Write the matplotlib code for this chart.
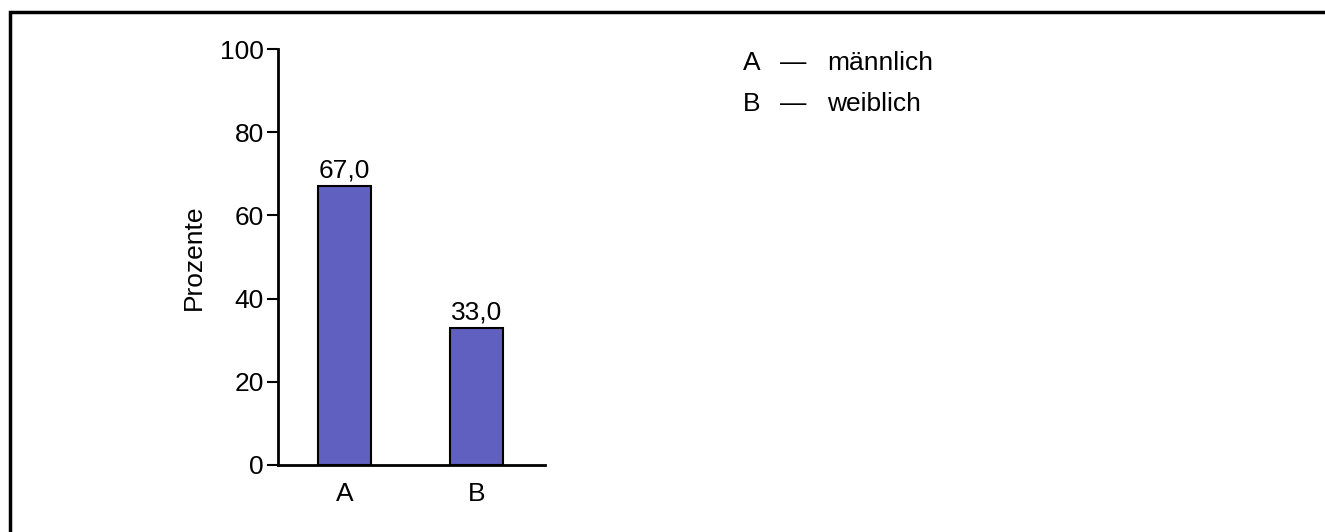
import matplotlib
matplotlib.use('Agg')
import matplotlib.pyplot as plt
from matplotlib.patches import Rectangle

plt.rcParams['font.family'] = ['Liberation Sans', 'DejaVu Sans']

categories = ['A', 'B']
values = [67.0, 33.0]
legend_labels = ['männlich', 'weiblich']
yticks = [0, 20, 40, 60, 80, 100]

FS = 19
W, H = 1325, 532
fig = plt.figure(figsize=(W / 100, H / 100), dpi=100)

# outer frame, right and bottom edges fall outside the picture
fig.patches.append(Rectangle((9.5 / W, -0.1), 1.2, 1 - 11.5 / H + 0.1,
                             transform=fig.transFigure, fill=False,
                             edgecolor='black', linewidth=2.5, clip_on=False))

ax = fig.add_axes([278 / W, 1 - 465 / H, (545 - 278) / W, (465 - 49) / H])
x = list(range(len(categories)))
bars = ax.bar(x, values, width=0.4, color='#6060c0', edgecolor='black', linewidth=1.5)
for b, v in zip(bars, values):
    ax.text(b.get_x() + b.get_width() / 2, v + 0.8, f'{v:.1f}'.replace('.', ','),
            ha='center', va='bottom', fontsize=FS)

ax.set_xlim(-0.504, 1.519)
ax.set_ylim(0, 100)
ax.set_yticks(yticks)
ax.set_xticks(x)
ax.set_xticklabels(categories)
ax.tick_params(axis='y', length=8, width=1.5, labelsize=FS, pad=2)
ax.tick_params(axis='x', length=0, labelsize=FS, pad=12)
ax.spines['top'].set_visible(False)
ax.spines['right'].set_visible(False)
ax.spines['left'].set_linewidth(2)
ax.spines['bottom'].set_linewidth(2)
ax.set_ylabel('Prozente', fontsize=FS, labelpad=10)

for i, (c, lab) in enumerate(zip(categories, legend_labels)):
    yy = 1 - (63 + i * 41) / H
    fig.text(743 / W, yy, c, fontsize=FS, va='center')
    fig.text(780 / W, yy, '—', fontsize=FS, va='center')
    fig.text(827 / W, yy, lab, fontsize=FS, va='center')

fig.savefig('out.png', dpi=100)
